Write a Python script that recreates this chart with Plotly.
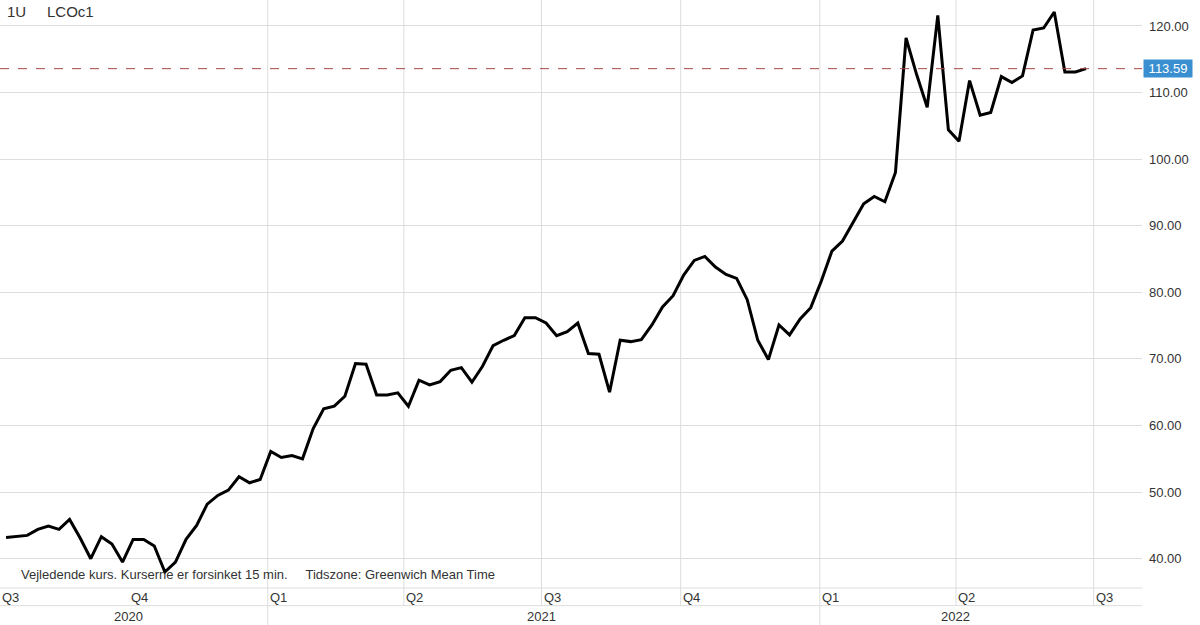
import pandas as pd
import plotly.graph_objects as go

# Brent (LCOc1) weekly closes
prices = [43.2, 43.3, 43.5, 44.4, 44.9, 44.4, 45.9, 43.1, 40.0, 43.3, 42.2, 39.5, 42.9, 42.9,
          41.9, 38.0, 39.5, 42.9, 45.0, 48.2, 49.5, 50.3, 52.3, 51.4, 51.9, 56.1, 55.2,
          55.5, 55.0, 59.5, 62.5, 62.9, 64.4, 69.3, 69.2, 64.6, 64.6, 64.9, 62.9, 66.8,
          66.1, 66.6, 68.3, 68.7, 66.5, 68.9, 72.0, 72.8, 73.5, 76.2, 76.2, 75.4, 73.5,
          74.1, 75.4, 70.8, 70.7, 65.0, 72.8, 72.6, 72.9, 75.1, 77.8, 79.5, 82.6, 84.8,
          85.4, 83.8, 82.7, 82.1, 78.9, 72.8, 69.9, 75.1, 73.6, 76.0, 77.7, 81.7, 86.2,
          87.7, 90.5, 93.3, 94.4, 93.6, 98.0, 118.2, 112.7, 107.8, 121.6, 104.4, 102.7,
          111.8, 106.6, 107.0, 112.4, 111.5, 112.5, 119.4, 119.7, 122.1, 113.1, 113.1, 113.59]
dates = pd.date_range(end="2022-06-26", periods=len(prices), freq="7D")
last_price = 113.59

quarter_starts = ["2020-07-01", "2020-10-01", "2021-01-01", "2021-04-01", "2021-07-01",
                  "2021-10-01", "2022-01-01", "2022-04-01", "2022-07-01"]
quarter_labels = ["Q3", "Q4", "Q1", "Q2", "Q3", "Q4", "Q1", "Q2", "Q3"]
year_labels = ["2020", "2021", "2022"]
year_centers = ["2020-10-01", "2021-07-01", "2022-04-01"]
year_bounds = ["2021-01-01", "2022-01-01"]

grid = "#dddddd"
fig = go.Figure()
fig.add_trace(go.Scatter(x=dates, y=prices, mode="lines", hoverinfo="skip",
                         line=dict(color="black", width=3), showlegend=False))

fig.add_hline(y=last_price, line=dict(color="#a84848", width=1, dash="dash"))

shapes = []
for q in quarter_starts[1:]:
    shapes.append(dict(type="line", xref="x", yref="paper", x0=q, x1=q, y0=-0.03, y1=1,
                       line=dict(color=grid, width=1), layer="below"))
for b in year_bounds:
    shapes.append(dict(type="line", xref="x", yref="paper", x0=b, x1=b, y0=-0.065, y1=-0.03,
                       line=dict(color=grid, width=1)))
for yy in [0, -0.03, -0.065]:
    shapes.append(dict(type="line", xref="paper", yref="paper", x0=0, x1=1, y0=yy, y1=yy,
                       line=dict(color=grid, width=1)))

ann = []
for i, (q, lab) in enumerate(zip(quarter_starts, quarter_labels)):
    if i == 0:
        ann.append(dict(x=0, y=0, xref="paper", yref="paper", text=lab, showarrow=False,
                        xanchor="left", yanchor="top", font=dict(size=13, color="#333")))
    else:
        ann.append(dict(x=q, y=0, xref="x", yref="paper", text=lab, showarrow=False,
                        xanchor="left", yanchor="top", font=dict(size=13, color="#333")))
for c, lab in zip(year_centers, year_labels):
    ann.append(dict(x=c, y=0, xref="x", yref="paper", text=lab, showarrow=False,
                    xanchor="center", yanchor="top", yshift=-19, font=dict(size=13, color="#333")))
ann.append(dict(x=0.017, y=37.6, xref="paper", yref="y", text="Vejledende kurs. Kurserne er forsinket 15 min.     Tidszone: Greenwich Mean Time",
                showarrow=False, xanchor="left", font=dict(size=13, color="#333")))
ann.append(dict(x=0.004, y=1, xref="paper", yref="paper", text="1U     LCOc1", showarrow=False,
                xanchor="left", yanchor="top", yshift=-1, font=dict(size=15, color="#333")))
ann.append(dict(x=1, y=last_price, xref="paper", yref="y", text=" 113.59 ", showarrow=False,
                xanchor="left", xshift=1, bgcolor="#3a8fd0", font=dict(size=13, color="white"),
                borderpad=1))

fig.update_layout(
    width=1200, height=625, plot_bgcolor="white", paper_bgcolor="white",
    margin=dict(l=0, r=58, t=0, b=37),
    font=dict(family="Liberation Sans, Arial", size=13, color="#333"),
    shapes=shapes, annotations=ann,
    xaxis=dict(range=["2020-07-08", "2022-08-02"], showgrid=False, showticklabels=False,
               zeroline=False),
    yaxis=dict(side="right", range=[35.6, 123.9], tickvals=list(range(40, 121, 10)),
               tickformat=".2f", gridcolor=grid, zeroline=False, ticks="", ticklabelstandoff=6),
)
fig.write_html("out.html", config={"displayModeBar": False},
               post_script="document.body.style.margin='0';")
